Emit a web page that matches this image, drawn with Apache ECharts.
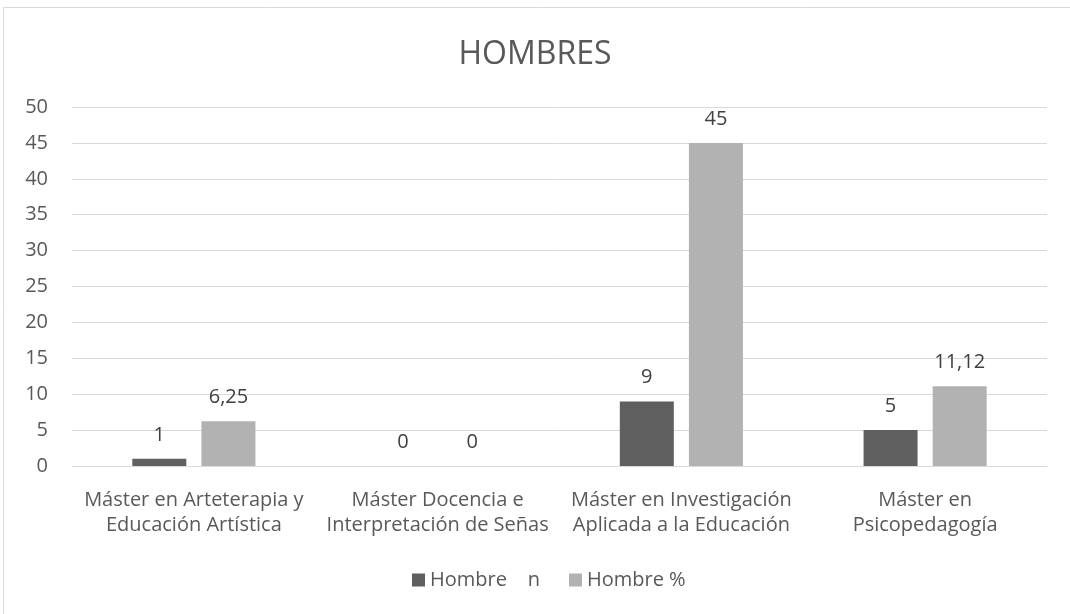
<!DOCTYPE html>
<html><head><meta charset="utf-8">
<script src="https://cdn.jsdelivr.net/npm/echarts@6/dist/echarts.min.js"></script>
<style>html,body{margin:0;padding:0;background:#fff}#c{width:1070px;height:614px}</style>
</head><body><div id="c"></div>
<script>
var categories = ["Máster en Arteterapia y\nEducación Artística","Máster Docencia e\nInterpretación de Señas","Máster en Investigación\nAplicada a la Educación","Máster en\nPsicopedagogía"];
var seriesNames = ["Hombre    n","Hombre %"];
var hombreN = [1, 0, 9, 5];
var hombrePct = [6.25, 0, 45, 11.12];
var yTicks = {min:0, max:50, interval:5};
var FONT = "'Open Sans', sans-serif";
var chart = echarts.init(document.getElementById('c'));
function fmt(p){ return String(p.value).replace('.', ','); }
chart.setOption({
  animation:false,
  textStyle:{fontFamily:FONT},
  title:{text:'HOMBRES', left:'center', top:34, textStyle:{fontFamily:FONT, fontSize:32, fontWeight:'normal', color:'#595959'}},
  graphic:[{type:'rect', shape:{x:3.5,y:7.5,width:1100,height:700}, style:{fill:'none', stroke:'#d9d9d9', lineWidth:1}, silent:true}],
  legend:{bottom:19, left:407, itemWidth:13, itemHeight:13, itemGap:29, itemTextGap:6, icon:'rect',
    textStyle:{fontFamily:FONT, fontSize:20, color:'#595959'}, data:seriesNames},
  grid:{left:72, right:23, top:107, bottom:148, containLabel:false},
  xAxis:{type:'category', data:categories,
    axisLine:{lineStyle:{color:'#d9d9d9'}}, axisTick:{show:false},
    axisLabel:{fontFamily:FONT, fontSize:20, color:'#595959', lineHeight:25, margin:22, interval:0}},
  yAxis:{type:'value', min:yTicks.min, max:yTicks.max, interval:yTicks.interval,
    axisLine:{show:false}, axisTick:{show:false},
    splitLine:{lineStyle:{color:'#d9d9d9'}},
    axisLabel:{fontFamily:FONT, fontSize:20, color:'#595959', margin:24}},
  series:[
    {name:seriesNames[0], type:'bar', data:hombreN, barWidth:54, barGap:'28%',
     itemStyle:{color:'#5f5f5f'},
     label:{show:true, position:'top', distance:14, formatter:fmt, fontFamily:FONT, fontSize:20, color:'#404040'}},
    {name:seriesNames[1], type:'bar', data:hombrePct, barWidth:54,
     itemStyle:{color:'#b2b2b2'},
     label:{show:true, position:'top', distance:14, formatter:fmt, fontFamily:FONT, fontSize:20, color:'#404040'}}
  ]
});
</script></body></html>
